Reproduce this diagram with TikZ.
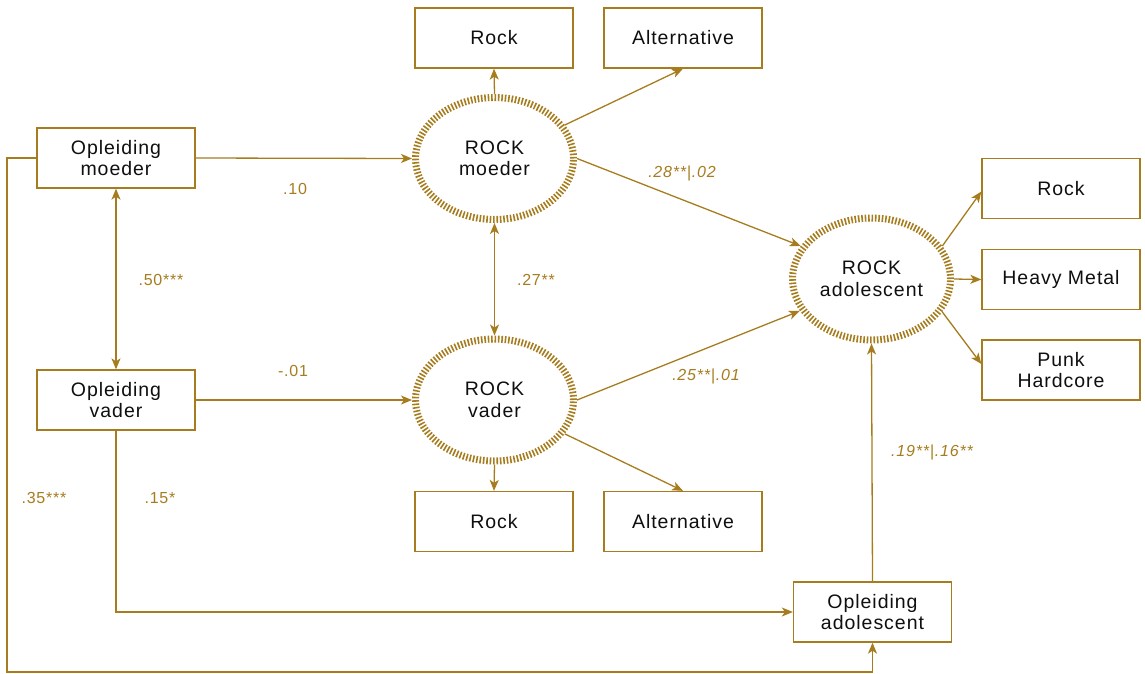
\documentclass[tikz,border=0pt]{standalone}
\usepackage{fontspec}
\setmainfont{Liberation Sans}[LetterSpace=5]
\usetikzlibrary{shapes.geometric,arrows.meta}
\definecolor{gold}{RGB}{166,124,30}
\definecolor{ink}{RGB}{15,15,15}
\tikzset{
  box/.style={draw=gold,line width=1.3pt,fill=white,minimum width=158pt,minimum height=60pt,inner sep=0pt,
    text=ink,align=center,font=\fontsize{19.5}{21.5}\selectfont},
  lat/.style={ellipse,draw=gold,line width=7pt,dash pattern=on 1.6pt off 1.8pt,minimum width=158pt,minimum height=122pt,
    inner sep=0pt,text=ink,align=center,font=\fontsize{19.5}{21.5}\selectfont},
  arr/.style={draw=gold,line width=1.3pt,-{Stealth[length=11pt,width=9pt,inset=3pt]}},
  darr/.style={draw=gold,line width=1.3pt,{Stealth[length=11pt,width=9pt,inset=3pt]}-{Stealth[length=11pt,width=9pt,inset=3pt]}},
  coef/.style={text=gold,font=\fontsize{16}{18}\selectfont,inner sep=0pt},
  coefi/.style={coef,font=\fontsize{16}{18}\selectfont\itshape},
}
\begin{document}
\begin{tikzpicture}[x=1pt,y=-1pt]
\useasboundingbox (0,0) rectangle (1145,673);
% boxes
\node[box] (om) at (116,158) {Opleiding\\moeder};
\node[box] (ov) at (116,400) {Opleiding\\vader};
\node[box] (r1) at (494,38) {Rock};
\node[box] (a1) at (683,38) {Alternative};
\node[box] (r2) at (494,521.5) {Rock};
\node[box] (a2) at (683,521.5) {Alternative};
\node[box] (rr) at (1061,188.5) {Rock};
\node[box] (hm) at (1061,279.5) {Heavy Metal};
\node[box] (ph) at (1061,370) {Punk\\Hardcore};
\node[box] (oa) at (872.5,612) {Opleiding\\adolescent};
% latent
\node[lat] (rm) at (494.5,158.5) {ROCK\\moeder};
\node[lat] (rv) at (494.5,400) {ROCK\\vader};
\node[lat] (ra) at (871.5,279) {ROCK\\adolescent};
% coordinates
\coordinate (c1) at (7,672);
% connectors
\draw[arr] (om.east) -- (rm.west);
\draw[arr] (ov.east) -- (rv.west);
\draw[darr] (om.south) -- (ov.north);
\draw[darr] (rm.south) -- (rv.north);
\draw[arr] (rm.north) -- (r1.south);
\draw[arr] (rm) -- (a1.south);
\draw[arr] (rv.south) -- (r2.north);
\draw[arr] (rv) -- (a2.north);
\draw[arr] (rm.east) -- (ra.155);
\draw[arr] (rv.east) -- (ra.204);
\draw[arr] (oa.north) -- (ra.south);
\draw[arr] (ra.25) -- ([yshift=-3pt]rr.west);
\draw[arr] (ra.east) -- (hm.west);
\draw[arr] (ra.-25) -- ([yshift=6pt]ph.west);
\draw[arr] (ov.south) |- (oa.west);
\draw[arr] (om.west) -| (c1) -| (oa.south);
% coefficients
\node[coef] (k1) at (295,189) {.10};
\node[coef] (k2) at (293,371) {-.01};
\node[coef] (k3) at (161,280) {.50***};
\node[coef] (k4) at (536,280) {.27**};
\node[coefi] (k5) at (682,173) {.28**|.02};
\node[coefi] (k6) at (706,376) {.25**|.01};
\node[coefi] (k7) at (932,452) {.19**|.16**};
\node[coef] (k8) at (44,498) {.35***};
\node[coef] (k9) at (160,498) {.15*};
\end{tikzpicture}
\end{document}
